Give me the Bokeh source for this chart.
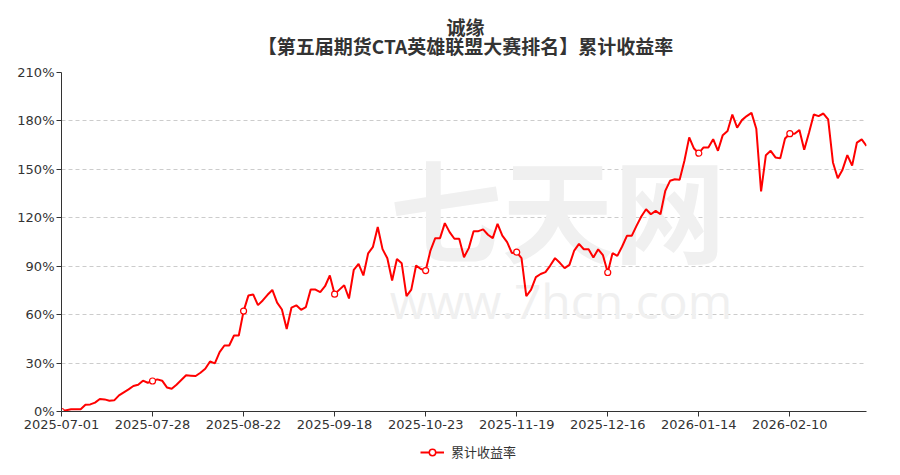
from bokeh.plotting import figure
from bokeh.layouts import column
from bokeh.models import (Range1d, FixedTicker, Legend, LegendItem, ColumnDataSource)
from bokeh.core.properties import value
from bokeh.embed import file_html
from bokeh.resources import INLINE

title_main = "诚缘"
title_sub = "【第五届期货CTA英雄联盟大赛排名】累计收益率"
series_name = "累计收益率"

tick_index = [0, 19, 38, 57, 76, 95, 114, 133, 152]
tick_labels = ["2025-07-01", "2025-07-28", "2025-08-22", "2025-09-18", "2025-10-23",
               "2025-11-19", "2025-12-16", "2026-01-14", "2026-02-10"]
y_ticks = [0, 30, 60, 90, 120, 150, 180, 210]

returns = [
    0.0, 0.8, 1.4, 1.4, 1.4, 4.2, 4.4, 5.5, 7.7, 7.5,
    6.7, 6.9, 10.0, 11.9, 13.7, 15.8, 16.6, 19.1, 17.8, 18.9,
    19.9, 19.1, 14.9, 14.1, 16.6, 19.5, 22.4, 22.2, 22.0, 24.0,
    26.5, 31.0, 29.8, 36.8, 40.9, 40.9, 47.1, 47.1, 62.2, 71.8,
    72.5, 65.9, 68.8, 72.3, 75.3, 67.4, 63.2, 51.1, 64.4, 65.8,
    63.0, 64.7, 75.5, 75.5, 73.9, 77.6, 84.3, 72.7, 75.5, 78.2,
    70.0, 87.8, 91.4, 84.3, 98.0, 102.0, 114.3, 100.6, 94.9, 81.2,
    94.5, 91.8, 71.5, 75.5, 90.4, 88.3, 87.3, 99.7, 107.4, 107.4,
    116.7, 111.1, 107.0, 107.0, 95.6, 101.2, 111.7, 111.7, 112.8, 109.5,
    107.4, 116.3, 109.0, 104.9, 98.1, 98.7, 95.0, 71.4, 75.5, 83.2,
    85.2, 86.3, 90.4, 95.0, 92.1, 88.8, 90.8, 99.7, 103.8, 100.5,
    100.5, 95.4, 100.5, 96.8, 86.1, 98.1, 96.4, 102.2, 108.8, 108.8,
    115.0, 120.8, 125.3, 122.2, 124.3, 122.2, 136.7, 142.9, 143.9, 143.5,
    155.3, 169.8, 162.9, 160.0, 163.6, 163.6, 168.7, 161.5, 171.2, 173.8,
    184.0, 175.8, 180.5, 183.0, 185.0, 175.2, 136.3, 158.8, 161.5, 157.4,
    156.8, 169.1, 172.1, 172.1, 174.4, 162.1, 172.7, 184.0, 183.0, 184.6,
    180.9, 154.3, 144.5, 149.8, 158.8, 152.3, 166.6, 168.6, 164.5,
]

FONT = "Noto Sans CJK SC"
AXFONT = "DejaVu Sans"
W = 884
FRAME_L, FRAME_R = 61, 866   # frame edges shared by all rows of the column
LINE_COLOR = "#ff0000"
x = list(range(len(returns)))


def bare(fig):
    fig.outline_line_color = None
    fig.min_border_left = FRAME_L
    fig.min_border_right = W - FRAME_R
    fig.min_border_top = 0
    fig.min_border_bottom = 0
    fig.xgrid.visible = False
    fig.ygrid.visible = False
    return fig


# ---- title strip (x in page pixels, y downward) ----
t = bare(figure(width=W, height=64, output_backend="svg", toolbar_location=None,
                x_range=Range1d(FRAME_L, FRAME_R), y_range=Range1d(64, 0),
                x_axis_location=None, y_axis_location=None))
t.text(x=[465, 465], y=[26, 45], text=[title_main, title_sub], text_font=value(FONT),
       text_font_size="19px", text_font_style="bold", text_color="#333333",
       text_align="center", text_baseline="middle")

# ---- main chart ----
p = figure(width=W, height=376, output_backend="svg", toolbar_location=None,
           x_range=Range1d(0, len(returns) - 1), y_range=Range1d(0, 210),
           min_border_left=FRAME_L, min_border_right=W - FRAME_R, min_border_top=8,
           min_border_bottom=29)
p.outline_line_color = None

# watermark
p.text(x=[68.5], y=[127], text=["七天网"], text_font=value(FONT), text_font_size="112px",
       text_font_style="bold", text_color="#f0f0f0", text_baseline="middle", text_align="left")
p.text(x=[68.5], y=[69], text=["www.7hcn.com"], text_font=value("Open Sans"),
       text_font_size="48px", text_color="#f0f0f0", text_baseline="middle", text_align="left")

p.yaxis.ticker = FixedTicker(ticks=y_ticks)
p.yaxis.major_label_overrides = {v: f"{v}%" for v in y_ticks}
p.xaxis.ticker = FixedTicker(ticks=tick_index)
p.xaxis.major_label_overrides = {i: l for i, l in zip(tick_index, tick_labels)}
for ax in (p.xaxis, p.yaxis):
    ax.axis_line_color = "#333333"
    ax.major_tick_line_color = "#333333"
    ax.major_tick_out = 5
    ax.major_tick_in = 0
    ax.minor_tick_line_color = None
    ax.major_label_text_color = "#333333"
    ax.major_label_text_font = AXFONT
    ax.major_label_text_font_size = "13px"
p.xaxis.major_label_standoff = 3
p.yaxis.major_label_standoff = 2

p.xgrid.grid_line_color = None
p.ygrid.grid_line_color = "#cccccc"
p.ygrid.grid_line_dash = "4 3"

src = ColumnDataSource(dict(x=x, y=returns))
p.line("x", "y", source=src, line_color=LINE_COLOR, line_width=2)
msrc = ColumnDataSource(dict(x=tick_index, y=[returns[i] for i in tick_index]))
p.scatter("x", "y", source=msrc, size=6, fill_color="white",
          line_color=LINE_COLOR, line_width=1.2)

# ---- legend strip (proxy renderers sit outside the visible range) ----
lg = bare(figure(width=W, height=24, output_backend="svg", toolbar_location=None,
                 x_range=Range1d(0, 1), y_range=Range1d(0, 1),
                 x_axis_location=None, y_axis_location=None))
proxy = ColumnDataSource(dict(x=[-5, -4], y=[-5, -5]))
lr = lg.line("x", "y", source=proxy, line_color=LINE_COLOR, line_width=2)
ls = lg.scatter("x", "y", source=proxy, size=10, fill_color="white",
                line_color=LINE_COLOR, line_width=1.5)
legend = Legend(items=[LegendItem(label=series_name, renderers=[lr, ls])],
                location=(420 - FRAME_L, 3), orientation="horizontal",
                border_line_color=None, background_fill_alpha=0,
                padding=0, margin=0, glyph_width=24, glyph_height=16,
                label_standoff=7, label_text_font=FONT, label_text_font_size="13px",
                label_text_color="#333333")
lg.add_layout(legend, "center")

open("out.html", "w").write(file_html(column(t, p, lg), INLINE))
